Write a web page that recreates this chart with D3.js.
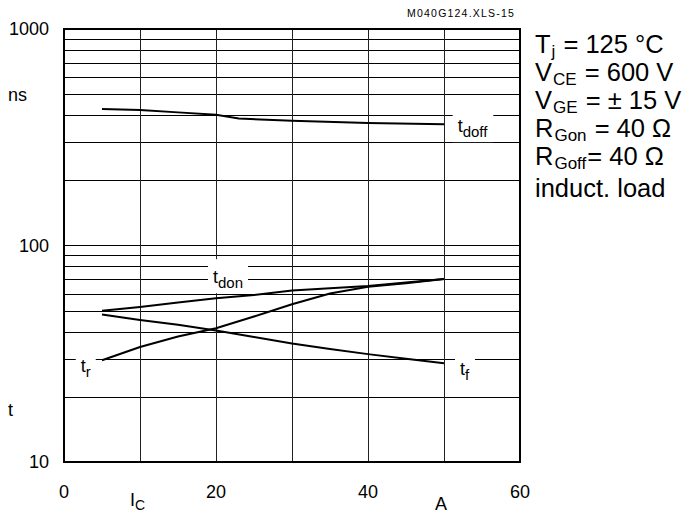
<!DOCTYPE html>
<html>
<head>
<meta charset="utf-8">
<script src="https://cdn.jsdelivr.net/npm/d3@7"></script>
<style>
  body { margin: 0; background: #fff; }
  text { font-family: Arial, "Liberation Sans", sans-serif; fill: #000; }
</style>
</head>
<body>
<div id="chart"></div>
<script>
// data (collector current in A, times in ns)
var icDoff = [5, 10, 15, 20, 23, 30, 40, 50];
var tdoff = [427, 422, 412, 402, 386, 377, 368, 363];

var ic = [5, 10, 15, 20, 25, 30, 35, 40, 45, 50];
var tdon = [50, 52, 54.5, 57, 59, 62, 63.5, 65, 67.5, 70];
var tr = [29.5, 34, 38, 41.5, 47, 53.5, 60, 64.5, 67, 70];
var tf = [48, 45.3, 43, 40.5, 37.8, 35.3, 33.3, 31.5, 30, 28.6];

var xTicks = [0, 20, 40, 60];
var xGrid = [10, 20, 30, 40, 50];
var yTicks = [10, 100, 1000];

var conditions = [
  ["T", "j", " = 125 °C"],
  ["V", "CE", " = 600 V"],
  ["V", "GE", " = ± 15 V"],
  ["R", "Gon", " = 40 Ω"],
  ["R", "Goff", "= 40 Ω"],
  ["induct. load", "", ""]
];

var width = 693, height = 515;
var plot = { left: 64, right: 520, top: 29, bottom: 462 };

var svg = d3
  .select("#chart")
  .append("svg")
  .attr("width", width)
  .attr("height", height);

var x = d3.scaleLinear().domain([0, 60]).range([plot.left, plot.right]);
var y = d3.scaleLog().domain([10, 1000]).range([plot.bottom, plot.top]);

// grid
var grid = svg.append("g");
grid
  .selectAll(".hgrid")
  .data(y.ticks())
  .enter()
  .append("line")
  .attr("x1", plot.left)
  .attr("x2", plot.right)
  .attr("y1", function (d) { return Math.round(y(d)) + 0.5; })
  .attr("y2", function (d) { return Math.round(y(d)) + 0.5; })
  .style("stroke", "#000")
  .style("stroke-width", 1.2);

grid
  .selectAll(".vgrid")
  .data(xGrid)
  .enter()
  .append("line")
  .attr("x1", function (d) { return Math.round(x(d)) + 0.5; })
  .attr("x2", function (d) { return Math.round(x(d)) + 0.5; })
  .attr("y1", plot.top)
  .attr("y2", plot.bottom)
  .style("stroke", "#222")
  .style("stroke-width", 1);

svg
  .append("rect")
  .attr("x", plot.left)
  .attr("y", plot.top)
  .attr("width", plot.right - plot.left)
  .attr("height", plot.bottom - plot.top)
  .style("fill", "none")
  .style("stroke", "#000")
  .style("stroke-width", 2);

// tick labels
svg
  .selectAll(".ylab")
  .data(yTicks)
  .enter()
  .append("text")
  .attr("x", 49)
  .attr("y", function (d) { return y(d) + 6; })
  .attr("text-anchor", "end")
  .style("font-size", "18px")
  .text(function (d) { return d; });

svg
  .selectAll(".xlab")
  .data(xTicks)
  .enter()
  .append("text")
  .attr("x", function (d) { return x(d); })
  .attr("y", 498)
  .attr("text-anchor", "middle")
  .style("font-size", "18px")
  .text(function (d) { return d; });

svg.append("text").attr("x", 8).attr("y", 101).style("font-size", "18px").text("ns");
svg.append("text").attr("x", 8).attr("y", 416).style("font-size", "18px").text("t");

var icLab = svg.append("text").attr("x", 130).attr("y", 506).style("font-size", "18px");
icLab.append("tspan").text("I");
icLab.append("tspan").attr("dy", 4).style("font-size", "14px").text("C");
svg.append("text").attr("x", 441).attr("y", 510).attr("text-anchor", "middle")
  .style("font-size", "18px").text("A");

svg
  .append("text")
  .attr("x", 515)
  .attr("y", 17)
  .attr("text-anchor", "end")
  .style("font-size", "10.5px")
  .style("letter-spacing", "1.2px")
  .text("M040G124.XLS-15");

// curve labels with white boxes breaking the grid
var labels = [
  { main: "t", sub: "doff", a: 51.8, t: 334 },
  { main: "t", sub: "don", a: 19.6, t: 67 },
  { main: "t", sub: "r", a: 2.2, t: 26 },
  { main: "t", sub: "f", a: 52.1, t: 25.2 }
];
var boxLayer = svg.append("g");
var curveLayer = svg.append("g");
var labLayer = svg.append("g");

labels.forEach(function (l) {
  var t = labLayer
    .append("text")
    .attr("x", x(l.a))
    .attr("y", y(l.t))
    .style("font-size", "18px");
  t.append("tspan").text(l.main);
  t.append("tspan").attr("dy", 5).style("font-size", "15px").text(l.sub);
  var b = t.node().getBBox();
  boxLayer
    .append("rect")
    .attr("x", b.x - 5)
    .attr("y", b.y - 8)
    .attr("width", b.width + 10)
    .attr("height", b.height + 10)
    .style("fill", "#fff");
});

// curves
var series = [
  { xs: icDoff, ys: tdoff },
  { xs: ic, ys: tdon },
  { xs: ic, ys: tr },
  { xs: ic, ys: tf }
];
var line = d3
  .line()
  .x(function (d) { return x(d[0]); })
  .y(function (d) { return y(d[1]); });

curveLayer
  .selectAll("path")
  .data(series)
  .enter()
  .append("path")
  .attr("d", function (s) { return line(d3.zip(s.xs, s.ys)); })
  .style("fill", "none")
  .style("stroke", "#000")
  .style("stroke-width", 2);

// test conditions
conditions.forEach(function (c, i) {
  var t = svg
    .append("text")
    .attr("x", 535)
    .attr("y", 53 + i * 28 + (i === 5 ? 4 : 0))
    .style("font-size", "25.5px");
  t.append("tspan").text(c[0]);
  if (c[1]) {
    t.append("tspan").attr("dx", 1).attr("dy", 4).style("font-size", "17px").text(c[1]);
    t.append("tspan").attr("dx", 1).attr("dy", -4).text(c[2]);
  }
});
</script>
</body>
</html>
